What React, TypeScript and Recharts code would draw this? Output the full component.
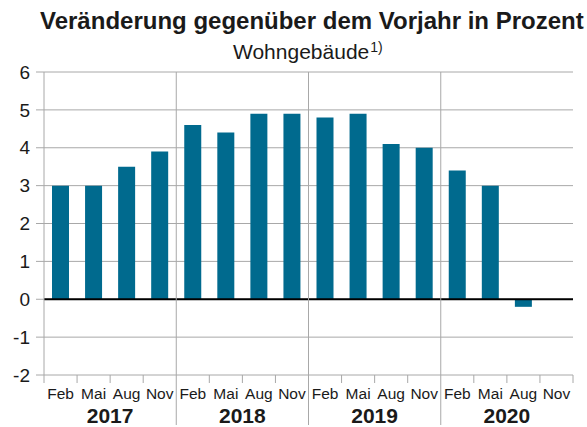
import { BarChart, Bar, XAxis, YAxis, CartesianGrid, ReferenceLine } from 'recharts';

const MONTHS = ['Feb', 'Mai', 'Aug', 'Nov', 'Feb', 'Mai', 'Aug', 'Nov', 'Feb', 'Mai', 'Aug', 'Nov', 'Feb', 'Mai', 'Aug', 'Nov'];
const YEARS = ['2017', '2018', '2019', '2020'];
const VALUES = [3.0, 3.0, 3.5, 3.9, 4.6, 4.4, 4.9, 4.9, 4.8, 4.9, 4.1, 4.0, 3.4, 3.0, -0.2, null];
const Y_TICKS = [-2, -1, 0, 1, 2, 3, 4, 5, 6];

const data = MONTHS.map((m, i) => ({ key: `${m}-${i}`, month: m, value: VALUES[i] }));

const PER_YEAR = 4;
const W = 587;
const H = 427;
const M = { top: 72, right: 14, left: 0, bottom: 0 };
const Y_W = 44;
const X_H = 52;
const PLOT_H = H - M.top - M.bottom - X_H;
const HALF_BAND = (W - M.left - M.right - Y_W) / MONTHS.length / 2;

const GRID = '#a8a8a8';
const FONT = '"Liberation Sans", Arial, sans-serif';

const MonthTick = (props: any) => {
  const { x, y, index } = props;
  const left = x - HALF_BAND;
  const yearStart = index % PER_YEAR === 0;
  const divider = yearStart && index > 0;
  const last = index === MONTHS.length - 1;
  return (
    <g>
      {divider ? (
        <line x1={left} x2={left} y1={y - PLOT_H} y2={y + 50} stroke={GRID} strokeWidth={1} />
      ) : (
        <line x1={left} x2={left} y1={y} y2={y + 8} stroke={GRID} strokeWidth={1} />
      )}
      {last && <line x1={x + HALF_BAND} x2={x + HALF_BAND} y1={y} y2={y + 8} stroke={GRID} strokeWidth={1} />}
      <text x={x} y={y + 24} textAnchor="middle" fontSize={15.5} fill="#1a1a1a" fontFamily={FONT}>
        {MONTHS[index]}
      </text>
      {index % PER_YEAR === PER_YEAR / 2 && (
        <text x={left} y={y + 48} textAnchor="middle" fontSize={21} fontWeight="bold" fill="#1a1a1a" fontFamily={FONT}>
          {YEARS[Math.floor(index / PER_YEAR)]}
        </text>
      )}
    </g>
  );
};

export default function App() {
  return (
    <div style={{ position: 'absolute', top: 0, left: 0, width: W, height: H, background: '#fff', fontFamily: FONT }}>
      <div style={{ position: 'absolute', top: 8, left: 40, fontSize: 24, lineHeight: '26px', fontWeight: 'bold', color: '#1a1a1a', whiteSpace: 'nowrap' }}>
        Veränderung gegenüber dem Vorjahr in Prozent
      </div>
      <div style={{ position: 'absolute', top: 40, left: 233, fontSize: 21, lineHeight: '23px', color: '#1a1a1a', whiteSpace: 'nowrap' }}>
        Wohngebäude<span style={{ fontSize: 14, position: 'relative', top: -7, marginLeft: 1 }}>1)</span>
      </div>
      <BarChart width={W} height={H} data={data} margin={M}>
        <CartesianGrid vertical={false} stroke={GRID} />
        <XAxis
          dataKey="key"
          interval={0}
          height={X_H}
          axisLine={false}
          tickLine={false}
          tickSize={0}
          tickMargin={0}
          tick={<MonthTick />}
        />
        <YAxis
          domain={[-2, 6]}
          ticks={Y_TICKS}
          interval={0}
          width={Y_W}
          tickSize={8}
          tickMargin={6}
          tickLine={{ stroke: GRID }}
          axisLine={{ stroke: GRID }}
          tick={{ fontSize: 19, fill: '#1a1a1a', fontFamily: FONT }}
        />
        <Bar dataKey="value" fill="#006a8e" barSize={17} isAnimationActive={false} />
        <ReferenceLine y={0} stroke="#000" strokeWidth={2} />
      </BarChart>
    </div>
  );
}
